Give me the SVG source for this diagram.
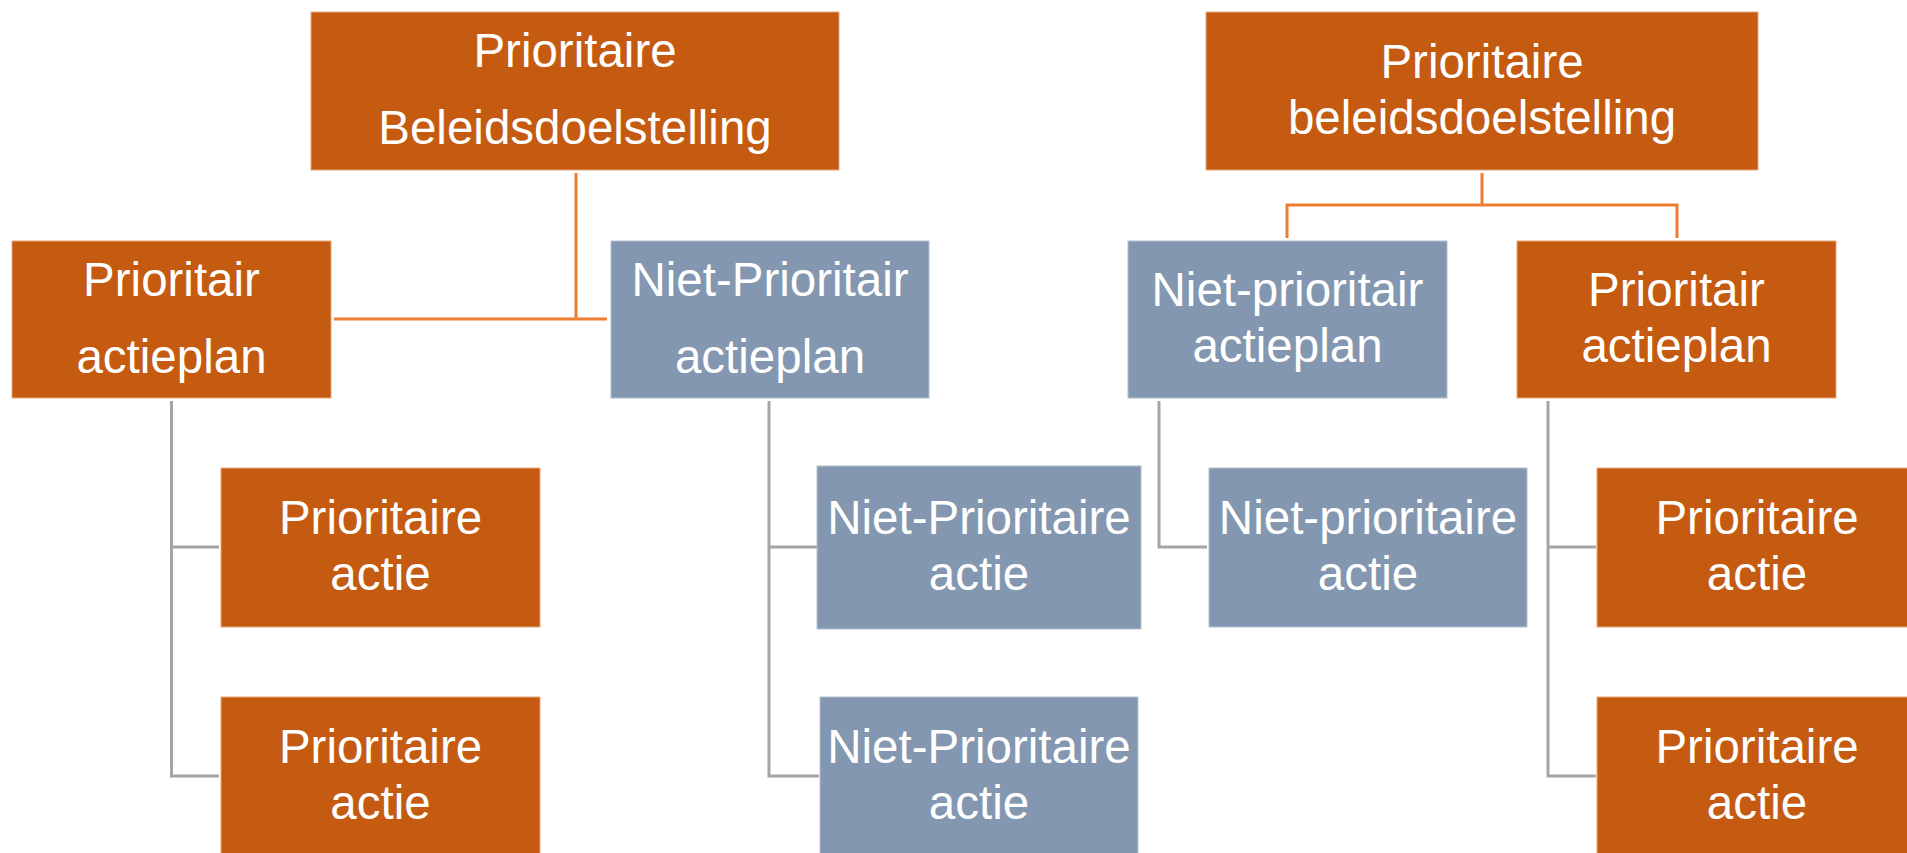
<svg xmlns="http://www.w3.org/2000/svg" width="1907" height="853" viewBox="0 0 1907 853">
<style>
.o{fill:#C55A11;stroke:#E9A77C;stroke-width:1}
.b{fill:#8497B0;stroke:#B4C0D0;stroke-width:1}
.t{font-family:"Liberation Sans",Arial,sans-serif;font-size:47.5px;fill:#FFFFFF;text-anchor:middle}
.co{fill:none;stroke:#ED7D31;stroke-width:3}
.cg{fill:none;stroke:#A5A5A5;stroke-width:3}
</style>
<rect width="1907" height="853" fill="#FFFFFF"/>
<g id="connectors">
<path class="co" d="M576 173V319M334 319H607"/>
<path class="co" d="M1482 173V205M1287 238V205H1677V238"/>
<path class="cg" d="M171.5 401V776H219M171.5 547H219"/>
<path class="cg" d="M769 401V776H819M769 547H817"/>
<path class="cg" d="M1159 401V547H1207"/>
<path class="cg" d="M1548 401V776H1596M1548 547H1596"/>
</g>
<g id="n1"><rect class="o" x="311" y="12" width="528" height="158"/><text class="t" x="575" y="67">Prioritaire</text><text class="t" x="575" y="144">Beleidsdoelstelling</text></g>
<g id="n2"><rect class="o" x="12" y="241" width="319" height="157"/><text class="t" x="171.5" y="296">Prioritair</text><text class="t" x="171.5" y="373">actieplan</text></g>
<g id="n3"><rect class="b" x="611" y="241" width="318" height="157"/><text class="t" x="770" y="296">Niet-Prioritair</text><text class="t" x="770" y="373">actieplan</text></g>
<g id="n4"><rect class="o" x="221" y="468" width="319" height="159"/><text class="t" x="380.5" y="534">Prioritaire</text><text class="t" x="380.5" y="590">actie</text></g>
<g id="n5"><rect class="o" x="221" y="697" width="319" height="170"/><text class="t" x="380.5" y="763">Prioritaire</text><text class="t" x="380.5" y="819">actie</text></g>
<g id="n6"><rect class="b" x="817" y="466" width="324" height="163"/><text class="t" x="979" y="534">Niet-Prioritaire</text><text class="t" x="979" y="590">actie</text></g>
<g id="n7"><rect class="b" x="820" y="697" width="318" height="170"/><text class="t" x="979" y="763">Niet-Prioritaire</text><text class="t" x="979" y="819">actie</text></g>
<g id="n8"><rect class="o" x="1206" y="12" width="552" height="158"/><text class="t" x="1482" y="78">Prioritaire</text><text class="t" x="1482" y="134">beleidsdoelstelling</text></g>
<g id="n9"><rect class="b" x="1128" y="241" width="319" height="157"/><text class="t" x="1287.5" y="306">Niet-prioritair</text><text class="t" x="1287.5" y="362">actieplan</text></g>
<g id="n10"><rect class="o" x="1517" y="241" width="319" height="157"/><text class="t" x="1676.5" y="306">Prioritair</text><text class="t" x="1676.5" y="362">actieplan</text></g>
<g id="n11"><rect class="b" x="1209" y="468" width="318" height="159"/><text class="t" x="1368" y="534">Niet-prioritaire</text><text class="t" x="1368" y="590">actie</text></g>
<g id="n12"><rect class="o" x="1597" y="468" width="320" height="159"/><text class="t" x="1757" y="534">Prioritaire</text><text class="t" x="1757" y="590">actie</text></g>
<g id="n13"><rect class="o" x="1597" y="697" width="320" height="170"/><text class="t" x="1757" y="763">Prioritaire</text><text class="t" x="1757" y="819">actie</text></g>
</svg>
